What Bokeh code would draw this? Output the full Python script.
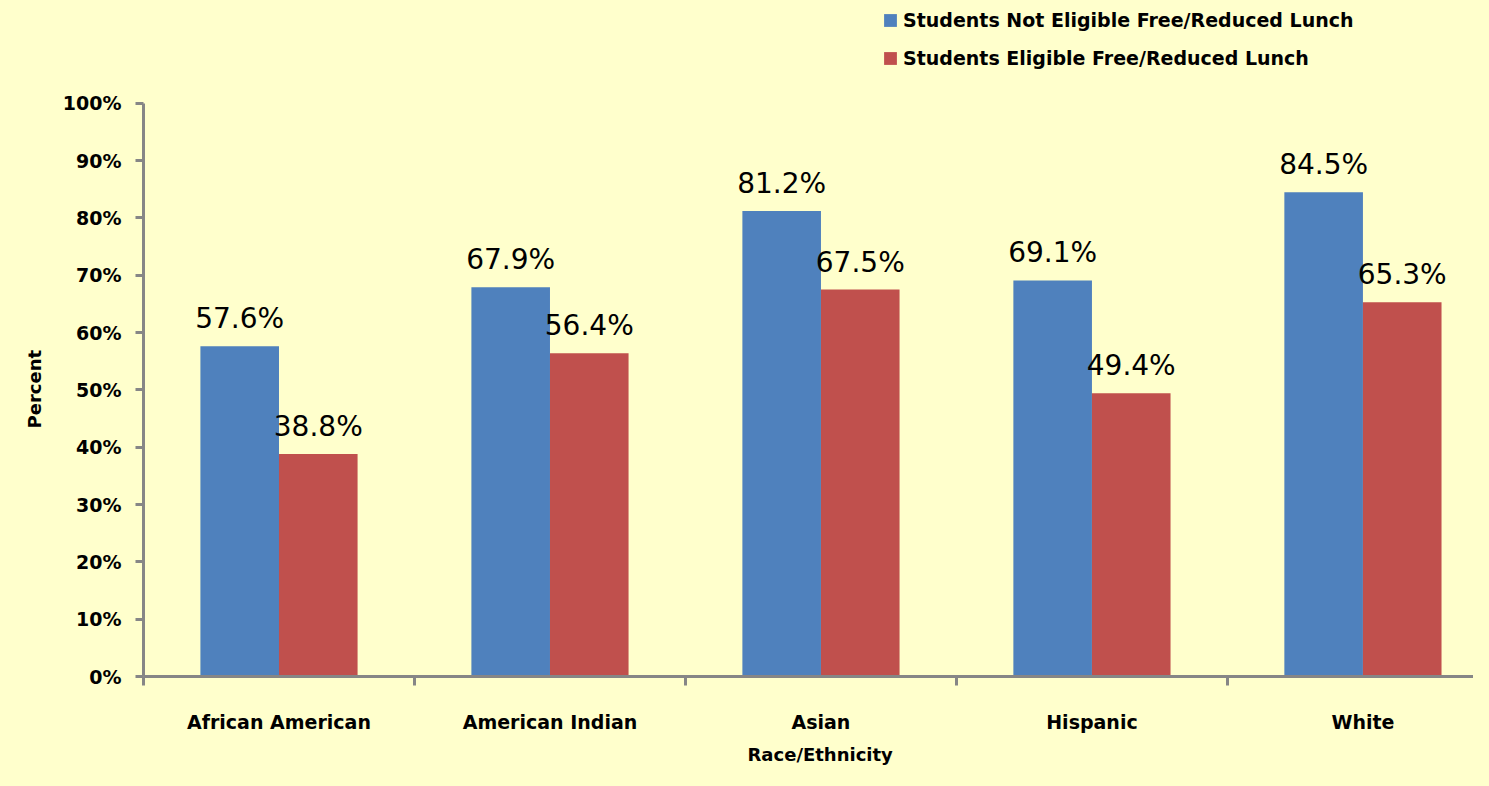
from bokeh.plotting import figure
from bokeh.models import (Range1d, FixedTicker, Legend, LegendItem, LabelSet, Title,
                          ColumnDataSource)
from bokeh.transform import dodge
from bokeh.core.properties import value
from bokeh.embed import file_html
from bokeh.resources import INLINE

categories = ["African American", "American Indian", "Asian", "Hispanic", "White"]
not_eligible = [57.6, 67.9, 81.2, 69.1, 84.5]
eligible = [38.8, 56.4, 67.5, 49.4, 65.3]
series_names = ["Students Not Eligible Free/Reduced Lunch", "Students Eligible Free/Reduced Lunch"]
y_ticks = list(range(0, 101, 10))
x_title = "Race/Ethnicity"
y_title = "Percent"

BG = "#FFFFCC"
BLUE = "#4F81BD"
RED = "#C0504D"
AXIS = "#868686"
FONT = "DejaVu Sans"

centers = [i + 0.5 for i in range(len(categories))]
src = ColumnDataSource(dict(
    x=centers,
    a=not_eligible,
    b=eligible,
    la=[f"{v:.1f}%" for v in not_eligible],
    lb=[f"{v:.1f}%" for v in eligible],
))

p = figure(width=1473, height=770, output_backend="svg", toolbar_location=None,
           x_range=Range1d(0, 4.908), y_range=Range1d(0, 117.94))
p.min_border_left = 143
p.min_border_right = 0
p.min_border_top = 0
p.min_border_bottom = 93
p.background_fill_color = BG
p.border_fill_color = BG
p.outline_line_color = None
p.xgrid.visible = False
p.ygrid.visible = False

bw = 0.29
rb = p.vbar(x=dodge("x", -bw / 2, range=p.x_range), top="a", width=bw, source=src,
            fill_color=BLUE, line_color=None)
rr = p.vbar(x=dodge("x", bw / 2, range=p.x_range), top="b", width=bw, source=src,
            fill_color=RED, line_color=None)

for col, lab, off in (("a", "la", -bw / 2), ("b", "lb", bw / 2)):
    ls = LabelSet(x=dodge("x", off, range=p.x_range), y=col, text=lab, source=src,
                  text_align="center", text_baseline="alphabetic", y_offset=18,
                  text_font=value(FONT), text_font_size=value("28px"),
                  text_color="black")
    p.add_layout(ls)

# y axis
ya = p.yaxis[0]
ya.ticker = FixedTicker(ticks=y_ticks)
ya.major_label_overrides = {t: f"{t}%" for t in y_ticks}
ya.bounds = (0, 100)
ya.axis_line_color = AXIS
ya.axis_line_width = 3
ya.major_tick_line_color = AXIS
ya.major_tick_line_width = 3
ya.major_tick_in = 0
ya.major_tick_out = 8
ya.minor_tick_line_color = None
ya.major_label_text_font = FONT
ya.major_label_text_font_style = "bold"
ya.major_label_text_font_size = "19px"
ya.major_label_text_color = "black"
ya.major_label_standoff = 14

# x axis
xa = p.xaxis[0]
xa.ticker = FixedTicker(ticks=centers, minor_ticks=list(range(len(categories) + 1)))
xa.major_label_overrides = {c: n for c, n in zip(centers, categories)}
xa.axis_line_color = AXIS
xa.axis_line_width = 3
xa.major_tick_line_color = None
xa.major_tick_in = 0
xa.major_tick_out = 0
xa.minor_tick_line_color = AXIS
xa.minor_tick_line_width = 3
xa.minor_tick_in = 0
xa.minor_tick_out = 9
xa.major_label_text_font = FONT
xa.major_label_text_font_style = "bold"
xa.major_label_text_font_size = "19px"
xa.major_label_text_color = "black"
xa.major_label_standoff = 25

# axis titles as side titles, shifted to centre on the category span / the 0-100% span
tx = Title(text=x_title, align="left", offset=604, standoff=12,
           text_font=FONT, text_font_style="bold", text_font_size="18px",
           text_color="black")
p.add_layout(tx, "below")
ty = Title(text=y_title, align="left", offset=248, standoff=30,
           text_font=FONT, text_font_style="bold", text_font_size="18px",
           text_color="black")
p.add_layout(ty, "left")

legend = Legend(items=[LegendItem(label=series_names[0], renderers=[rb]),
                       LegendItem(label=series_names[1], renderers=[rr])],
                location=(739, 607), orientation="vertical",
                glyph_width=16, glyph_height=16, label_standoff=5,
                label_height=20, spacing=16, padding=0, margin=0,
                background_fill_alpha=0, border_line_color=None,
                label_text_font=FONT, label_text_font_style="bold",
                label_text_font_size="19px", label_text_color="black")
p.add_layout(legend, "center")

html = file_html(p, INLINE)
html = html.replace("</head>", "<style>html, body { background-color: #FFFFCC; }</style></head>", 1)
open("out.html", "w").write(html)
